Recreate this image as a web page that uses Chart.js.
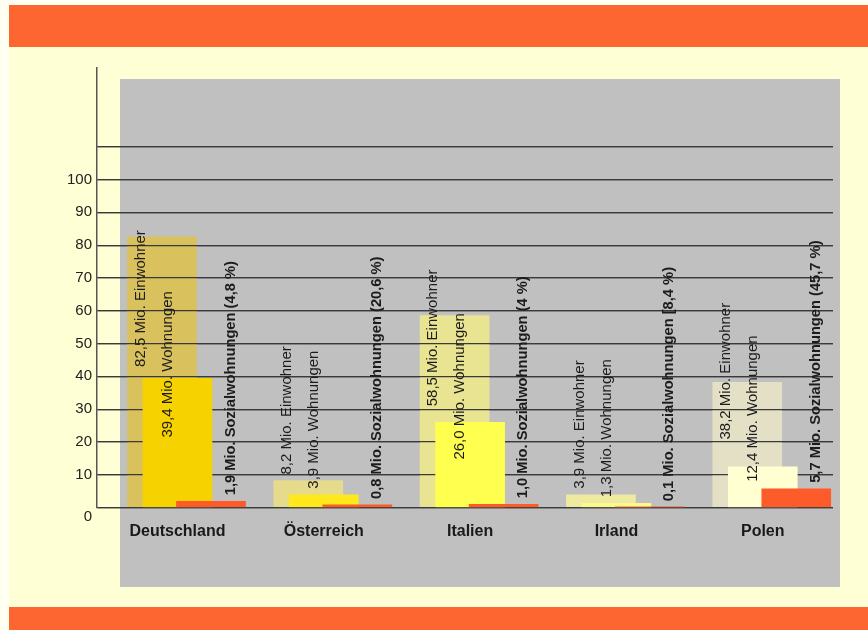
<!DOCTYPE html>
<html>
<head>
<meta charset="utf-8">
<script src="https://cdn.jsdelivr.net/npm/chart.js@4.4.1/dist/chart.umd.min.js"></script>
<style>
  html, body { margin: 0; padding: 0; background: #fff; }
  canvas { display: block; }
</style>
</head>
<body>
<canvas id="chart" width="868" height="630"></canvas>
<script>
const countries = ["Deutschland", "Österreich", "Italien", "Irland", "Polen"]
const einwohner = [82.5, 8.2, 58.5, 3.9, 38.2]
const wohnungen = [39.4, 3.9, 26.0, 1.3, 12.4]
const sozialwohnungen = [1.9, 0.8, 1.0, 0.1, 5.7]
const sozialShare = ["(4,8 %)", "(20,6 %)", "(4 %)", "[8,4 %)", "(45,7 %)"]
const yTicks = [0, 10, 20, 30, 40, 50, 60, 70, 80, 90, 100]

// colours per country
const einwohnerColors = ["#d9c15e", "#e6da8c", "#e8e491", "#eeea9f", "#e3e0c6"]
const wohnungenColors = ["#f6d200", "#ffe81c", "#ffff4f", "#fcf98c", "#ffffd2"]
const sozialColor = "#fd5b2a"

const FONT = "'Liberation Sans', Arial, sans-serif"
Chart.defaults.font.family = FONT

const de = v => v.toFixed(1).replace(".", ",")

const backdrop = {
  id: "backdrop",
  beforeDraw(chart) {
    const ctx = chart.ctx
    ctx.save()
    ctx.fillStyle = "#fffff2"
    ctx.fillRect(0, 0, 868, 630)
    ctx.fillStyle = "#ffffd6"
    ctx.fillRect(9, 5, 859, 625)
    ctx.fillStyle = "#fd6630"
    ctx.fillRect(9, 5, 859, 42)
    ctx.fillRect(9, 607, 859, 23)
    ctx.fillStyle = "#c0c0c0"
    ctx.fillRect(120, 79, 720, 508)
    ctx.restore()
  },
  // grid sits in front of the back row (Einwohner) but behind the others
  afterDatasetDraw(chart, args) {
    if (args.index === 0) chart.scales.y.drawGrid(chart.chartArea)
  }
}

// vertical text on the bars
const barLabels = {
  id: "barLabels",
  afterDraw(chart) {
    const ctx = chart.ctx
    const xs = chart.scales.x
    chart.data.datasets.forEach((ds, d) => {
      chart.getDatasetMeta(d).data.forEach((bar, i) => {
        const h = bar.base - bar.y
        const bottom = h >= 30 ? (bar.y + bar.base) / 2 - 5 : bar.y - 6
        const cx = xs.getPixelForValue(i) + ds.labelShift
        ctx.save()
        ctx.translate(cx, bottom)
        ctx.rotate(-Math.PI / 2)
        ctx.font = ds.labelFont
        ctx.fillStyle = "#1c1c1c"
        ctx.textAlign = "left"
        ctx.textBaseline = "middle"
        ctx.fillText(ds.texts[i], 0, 0)
        ctx.restore()
      })
    })
  }
}

new Chart(document.getElementById("chart"), {
  type: "bar",
  data: {
    datasets: [
      {
        label: "Einwohner",
        data: einwohner.map((v, i) => ({ x: i - 0.106, y: v })),
        backgroundColor: einwohnerColors,
        order: 3,
        texts: einwohner.map(v => de(v) + " Mio. Einwohner"),
        labelShift: -37,
        labelFont: "15px " + FONT
      },
      {
        label: "Wohnungen",
        data: wohnungen.map((v, i) => ({ x: i, y: v })),
        backgroundColor: wohnungenColors,
        order: 2,
        texts: wohnungen.map(v => de(v) + " Mio. Wohnungen"),
        labelShift: -10,
        labelFont: "15px " + FONT
      },
      {
        label: "Sozialwohnungen",
        data: sozialwohnungen.map((v, i) => ({ x: i + 0.229, y: v })),
        backgroundColor: sozialColor,
        order: 1,
        texts: sozialwohnungen.map((v, i) => de(v) + " Mio. Sozialwohnungen " + sozialShare[i]),
        labelShift: 53,
        labelFont: "bold 14.7px " + FONT
      }
    ]
  },
  options: {
    responsive: false,
    animation: false,
    layout: { padding: { left: 0, right: 35, top: 68, bottom: 62.5 } },
    plugins: { legend: { display: false }, tooltip: { enabled: false } },
    datasets: { bar: { grouped: false, barThickness: 69, borderWidth: 0 } },
    scales: {
      x: {
        type: "linear",
        offset: false,
        min: -0.55,
        max: 4.48,
        grid: { display: false },
        border: { display: false },
        afterBuildTicks: s => { s.ticks = countries.map((_, i) => ({ value: i })) },
        afterFit: s => { s.height = 60 },
        ticks: {
          autoSkip: false,
          maxRotation: 0,
          padding: 6,
          color: "#1a1a1a",
          font: { size: 16, weight: "bold" },
          callback: v => countries[v]
        }
      },
      y: {
        min: 0,
        max: 134,
        afterBuildTicks: s => { s.ticks = [...yTicks, 110].map(v => ({ value: v })) },
        afterFit: s => { s.width = 97 },
        grid: { color: "#3a3a3a", lineWidth: 1.2, drawTicks: false },
        border: { display: true, color: "#555", width: 1.5 },
        ticks: {
          padding: 5,
          color: "#222",
          font: { size: 15 },
          callback: v => (v === 0 ? ["", "0"] : v <= 100 ? v : "")
        }
      }
    }
  },
  plugins: [backdrop, barLabels]
})
</script>
</body>
</html>
